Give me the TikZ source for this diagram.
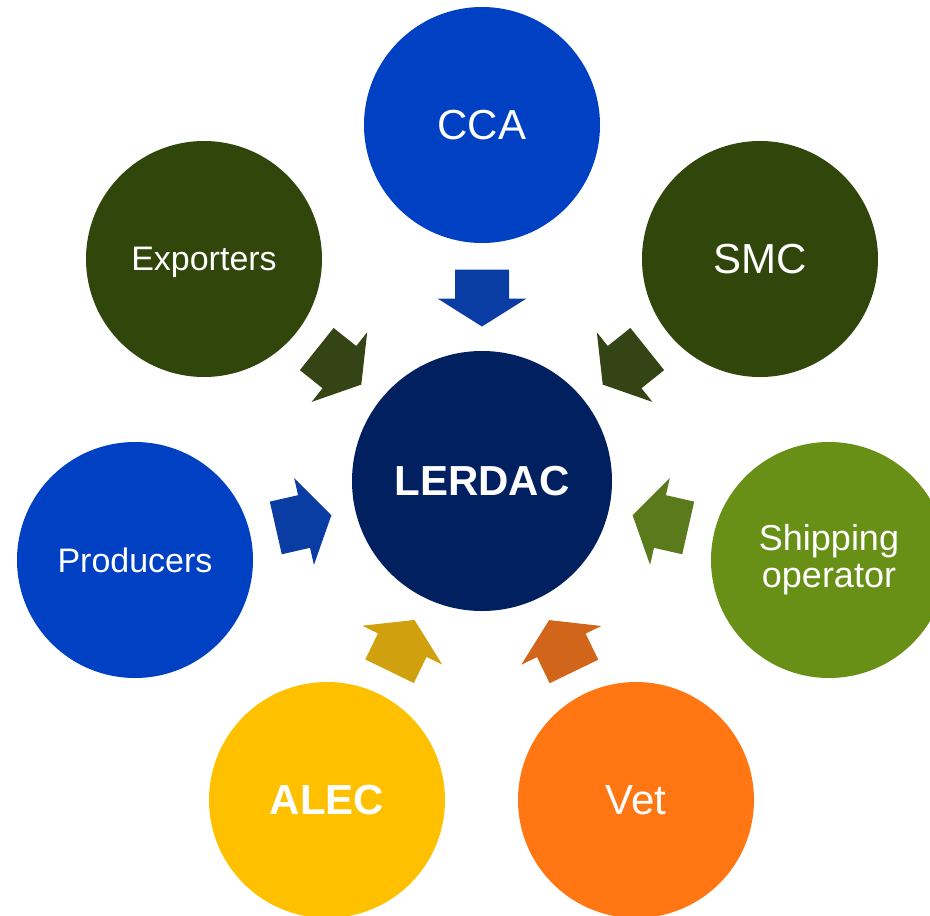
\documentclass[tikz,border=0pt]{standalone}
\usepackage{fontspec}
\setmainfont{Liberation Sans}
\usetikzlibrary{calc}
\definecolor{cBlue}{RGB}{0,65,196}
\definecolor{cOlive}{RGB}{49,70,10}
\definecolor{cNavy}{RGB}{0,32,96}
\definecolor{cGreen}{RGB}{104,143,22}
\definecolor{cYellow}{RGB}{255,192,0}
\definecolor{cOrange}{RGB}{255,118,18}
\definecolor{aBlue}{RGB}{10,61,164}
\definecolor{aOlive}{RGB}{52,68,20}
\definecolor{aGreen}{RGB}{90,122,28}
\definecolor{aYellow}{RGB}{209,160,14}
\definecolor{aOrange}{RGB}{209,101,26}
\newcommand{\blockarr}[3]{%
  \begin{scope}[shift={($(L)!183pt!(#2)$)}, rotate=#3+180]
    \fill[#1] (-28.5,-27) -- (0.5,-27) -- (0.5,-44.5) -- (28.5,0) -- (0.5,44.5) -- (0.5,27) -- (-28.5,27) -- cycle;
  \end{scope}}
\begin{document}
\begin{tikzpicture}[x=1pt,y=1pt,
  bubble/.style={circle, inner sep=0pt, minimum size=236pt, text=white, align=center, font=\fontsize{34}{37}\selectfont},
  bigtxt/.style={font=\fontsize{42}{48}\selectfont},
  boldtxt/.style={font=\fontsize{42}{48}\selectfont\bfseries}]
\useasboundingbox (0,-916) rectangle (930,0);
\node[bubble, fill=cNavy, minimum size=260pt, boldtxt] (L) at (482,-481) {LERDAC};
\node[bubble, fill=cBlue, bigtxt] (CCA) at (482,-125) {CCA};
\node[bubble, fill=cOlive, bigtxt] (SMC) at (760,-259) {SMC};
\node[bubble, fill=cOlive, text depth=0pt] (EXP) at (204,-259) {Exporters};
\node[bubble, fill=cBlue] (PRO) at (135,-560) {Producers};
\node[bubble, fill=cGreen, font=\fontsize{36}{37}\selectfont] (SHI) at (829,-560) {Shipping\\operator};
\node[bubble, fill=cYellow, boldtxt] (ALEC) at (327,-800) {ALEC};
\node[bubble, fill=cOrange, bigtxt] (VET) at (636,-800) {Vet};
\blockarr{aBlue}{CCA}{90}
\blockarr{aOlive}{SMC}{38.6}
\blockarr{aOlive}{EXP}{141.4}
\blockarr{aBlue}{PRO}{192.8}
\blockarr{aGreen}{SHI}{-12.8}
\blockarr{aYellow}{ALEC}{244.1}
\blockarr{aOrange}{VET}{-64.2}
\end{tikzpicture}
\end{document}
